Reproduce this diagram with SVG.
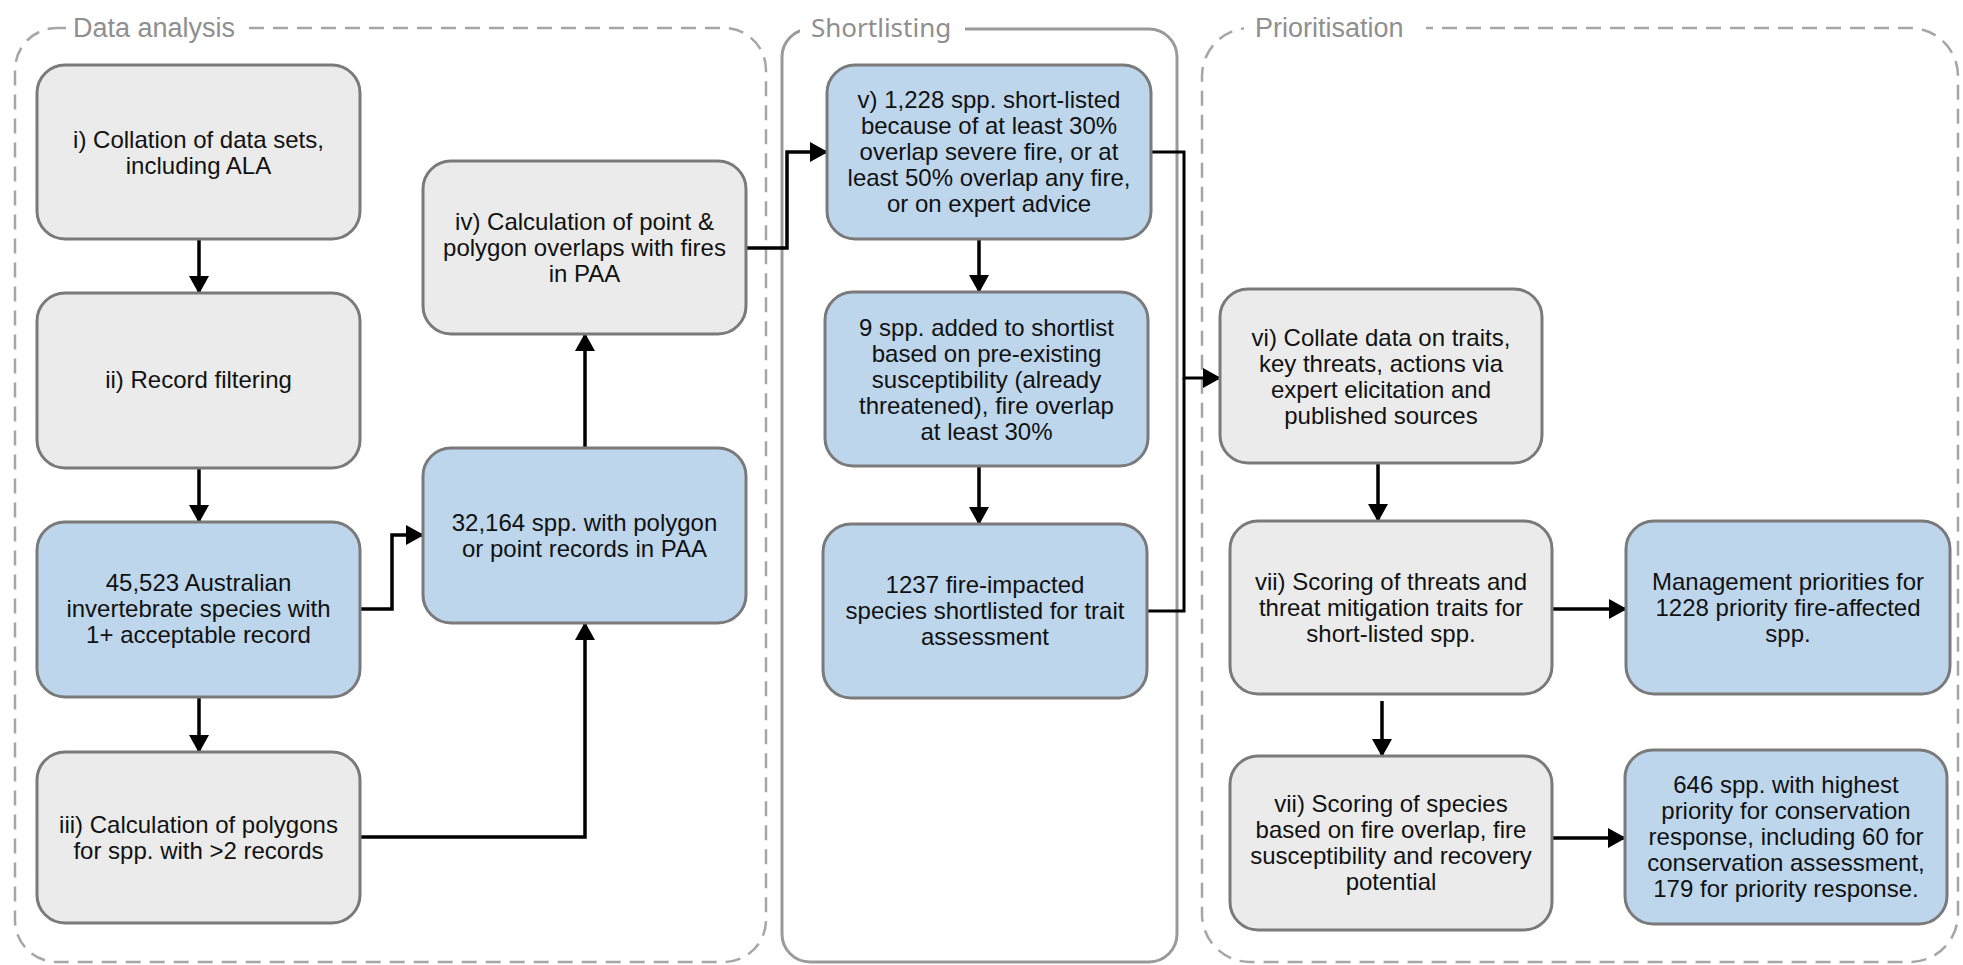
<svg xmlns="http://www.w3.org/2000/svg" width="1963" height="965" viewBox="0 0 1963 965">
<style>
.frame{fill:none;stroke:#a6a6a6;stroke-width:2.5}
.dash{stroke-dasharray:15 9}
.solid{stroke:#9a9a9a;stroke-width:3}
.glabel{font-family:"Liberation Sans",Arial,sans-serif;font-size:27px;fill:#8f8f8f}
.box{stroke:#7a7a7a;stroke-width:3}
.grey{fill:#ebebeb}
.blue{fill:#bdd6ec}
.t{font-family:"Liberation Sans",Arial,sans-serif;font-size:24px;fill:#111;text-anchor:middle}
.ts{font-family:"Liberation Sans",Arial,sans-serif;font-size:24px;fill:#111;text-anchor:middle}
.conn{fill:none;stroke:#000;stroke-width:3.5}
</style>
<defs>
<marker id="ah" markerUnits="userSpaceOnUse" markerWidth="20" markerHeight="20" refX="17" refY="10" orient="auto">
<path d="M0,0 L18,10 L0,20 z" fill="#000"/>
</marker>
</defs>
<rect width="1963" height="965" fill="#ffffff"/>

<g id="group-data-analysis">
<rect class="frame dash" x="15" y="28" width="751" height="934" rx="42"/>
<rect x="66" y="10" width="176" height="36" fill="#ffffff"/>
<text class="glabel" x="73" y="37">Data analysis</text>
</g>
<g id="group-shortlisting">
<rect class="frame solid" x="782" y="29" width="395" height="933" rx="28"/>
<rect x="800" y="10" width="165" height="36" fill="#ffffff"/>
<text class="glabel" x="811" y="37" style="font-family:'Noto Sans','Open Sans',sans-serif;font-size:26px">Shortlisting</text>
</g>
<g id="group-prioritisation">
<rect class="frame dash" x="1202" y="28" width="756" height="934" rx="48"/>
<rect x="1244" y="10" width="182" height="36" fill="#ffffff"/>
<text class="glabel" x="1255" y="37">Prioritisation</text>
</g>

<g id="connectors">
<path class="conn" d="M199,239 V293" marker-end="url(#ah)"/>
<path class="conn" d="M199,468 V522" marker-end="url(#ah)"/>
<path class="conn" d="M199,697 V752" marker-end="url(#ah)"/>
<path class="conn" d="M360,609 H392 V535 H423" marker-end="url(#ah)"/>
<path class="conn" d="M360,837 H585 V623" marker-end="url(#ah)"/>
<path class="conn" d="M585,448 V334" marker-end="url(#ah)"/>
<path class="conn" d="M746,248 H787 V152 H827" marker-end="url(#ah)"/>
<path class="conn" d="M979,239 V292" marker-end="url(#ah)"/>
<path class="conn" d="M979,466 V524" marker-end="url(#ah)"/>
<path class="conn" style="stroke-width:3" d="M1151,152 H1184 V378 H1220" marker-end="url(#ah)"/>
<path class="conn" style="stroke-width:3" d="M1147,611 H1184 V378"/>
<path class="conn" d="M1378,463 V521" marker-end="url(#ah)"/>
<path class="conn" d="M1552,609 H1626" marker-end="url(#ah)"/>
<path class="conn" d="M1382,701 V756" marker-end="url(#ah)"/>
<path class="conn" d="M1552,838 H1625" marker-end="url(#ah)"/>
</g>

<g id="node-i">
<rect class="box grey" x="37" y="65" width="323" height="174" rx="28"/>
<text class="t" x="198.5" y="148">i) Collation of data sets,</text>
<text class="t" x="198.5" y="174">including ALA</text>
</g>
<g id="node-ii">
<rect class="box grey" x="37" y="293" width="323" height="175" rx="28"/>
<text class="t" x="198.5" y="388">ii) Record filtering</text>
</g>
<g id="node-45523">
<rect class="box blue" x="37" y="522" width="323" height="175" rx="28"/>
<text class="t" x="198.5" y="591">45,523 Australian</text>
<text class="t" x="198.5" y="617">invertebrate species with</text>
<text class="t" x="198.5" y="643">1+ acceptable record</text>
</g>
<g id="node-iii">
<rect class="box grey" x="37" y="752" width="323" height="171" rx="28"/>
<text class="t" x="198.5" y="833">iii) Calculation of polygons</text>
<text class="t" x="198.5" y="859">for spp. with &gt;2 records</text>
</g>
<g id="node-iv">
<rect class="box grey" x="423" y="161" width="323" height="173" rx="28"/>
<text class="t" x="584.5" y="230">iv) Calculation of point &amp;</text>
<text class="t" x="584.5" y="256">polygon overlaps with fires</text>
<text class="t" x="584.5" y="282">in PAA</text>
</g>
<g id="node-32164">
<rect class="box blue" x="423" y="448" width="323" height="175" rx="28"/>
<text class="t" x="584.5" y="531">32,164 spp. with polygon</text>
<text class="t" x="584.5" y="557">or point records in PAA</text>
</g>
<g id="node-v">
<rect class="box blue" x="827" y="65" width="324" height="174" rx="28"/>
<text class="ts" x="989" y="108">v) 1,228 spp. short-listed</text>
<text class="ts" x="989" y="134">because of at least 30%</text>
<text class="ts" x="989" y="160">overlap severe fire, or at</text>
<text class="ts" x="989" y="186">least 50% overlap any fire,</text>
<text class="ts" x="989" y="212">or on expert advice</text>
</g>
<g id="node-9spp">
<rect class="box blue" x="825" y="292" width="323" height="174" rx="28"/>
<text class="ts" x="986.5" y="336">9 spp. added to shortlist</text>
<text class="ts" x="986.5" y="362">based on pre-existing</text>
<text class="ts" x="986.5" y="388">susceptibility (already</text>
<text class="ts" x="986.5" y="414">threatened), fire overlap</text>
<text class="ts" x="986.5" y="440">at least 30%</text>
</g>
<g id="node-1237">
<rect class="box blue" x="823" y="524" width="324" height="174" rx="28"/>
<text class="ts" x="985" y="593">1237 fire-impacted</text>
<text class="ts" x="985" y="619">species shortlisted for trait</text>
<text class="ts" x="985" y="645">assessment</text>
</g>
<g id="node-vi">
<rect class="box grey" x="1220" y="289" width="322" height="174" rx="28"/>
<text class="t" x="1381" y="346">vi) Collate data on traits,</text>
<text class="t" x="1381" y="372">key threats, actions via</text>
<text class="t" x="1381" y="398">expert elicitation and</text>
<text class="t" x="1381" y="424">published sources</text>
</g>
<g id="node-vii-threats">
<rect class="box grey" x="1230" y="521" width="322" height="173" rx="28"/>
<text class="t" x="1391" y="590">vii) Scoring of threats and</text>
<text class="t" x="1391" y="616">threat mitigation traits for</text>
<text class="t" x="1391" y="642">short-listed spp.</text>
</g>
<g id="node-management">
<rect class="box blue" x="1626" y="521" width="324" height="173" rx="28"/>
<text class="t" x="1788" y="590">Management priorities for</text>
<text class="t" x="1788" y="616">1228 priority fire-affected</text>
<text class="t" x="1788" y="642">spp.</text>
</g>
<g id="node-vii-species">
<rect class="box grey" x="1230" y="756" width="322" height="174" rx="28"/>
<text class="t" x="1391" y="812">vii) Scoring of species</text>
<text class="t" x="1391" y="838">based on fire overlap, fire</text>
<text class="t" x="1391" y="864">susceptibility and recovery</text>
<text class="t" x="1391" y="890">potential</text>
</g>
<g id="node-646">
<rect class="box blue" x="1625" y="750" width="322" height="174" rx="28"/>
<text class="t" x="1786" y="793">646 spp. with highest</text>
<text class="t" x="1786" y="819">priority for conservation</text>
<text class="t" x="1786" y="845">response, including 60 for</text>
<text class="t" x="1786" y="871">conservation assessment,</text>
<text class="t" x="1786" y="897">179 for priority response.</text>
</g>
</svg>
